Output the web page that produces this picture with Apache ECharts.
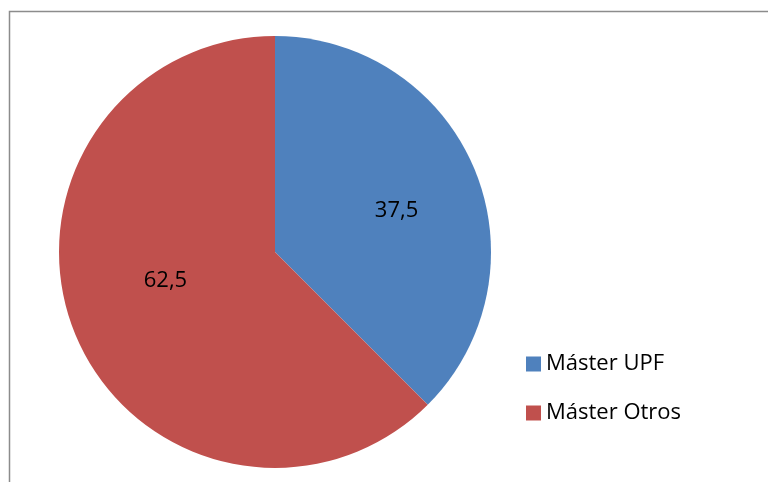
<!DOCTYPE html>
<html>
<head>
<meta charset="utf-8">
<script src="https://cdn.jsdelivr.net/npm/echarts@6/dist/echarts.min.js"></script>
<style>
html,body{margin:0;padding:0;background:#fff;}
#chart{width:768px;height:482px;}
</style>
</head>
<body>
<div id="chart"></div>
<script>
const categories = ['Máster UPF', 'Máster Otros'];
const values = [37.5, 62.5];
const colors = ['#4F81BD', '#C0504D'];

const chart = echarts.init(document.getElementById('chart'), null, {renderer: 'canvas'});
chart.setOption({
  animation: false,
  backgroundColor: '#ffffff',
  graphic: [{
    type: 'rect',
    shape: {x: 9.5, y: 11.5, width: 800, height: 520},
    style: {fill: 'none', stroke: '#8c8c8c', lineWidth: 1.5},
    silent: true, z: -10
  }],
  legend: {
    orient: 'vertical',
    left: 521,
    top: 348,
    icon: 'rect',
    itemWidth: 15,
    itemHeight: 15,
    itemGap: 27,
    data: categories,
    textStyle: {fontFamily: 'Open Sans', fontSize: 22, color: '#000', lineHeight: 22, padding: [0,0,0,0]}
  },
  series: [{
    type: 'pie',
    center: [275, 252],
    radius: 216,
    startAngle: 90,
    clockwise: true,
    color: colors,
    label: {
      show: true,
      position: 'inside',
      formatter: p => String(p.value).replace('.', ','),
      fontFamily: 'Open Sans',
      fontSize: 22,
      color: '#000'
    },
    labelLayout: p => p.dataIndex === 0 ? {dx: 19, dy: 1} : {dx: -7, dy: -14},
    labelLine: {show: false},
    itemStyle: {borderWidth: 0},
    emphasis: {disabled: true},
    data: categories.map((c, i) => ({name: c, value: values[i]}))
  }]
});
</script>
</body>
</html>
